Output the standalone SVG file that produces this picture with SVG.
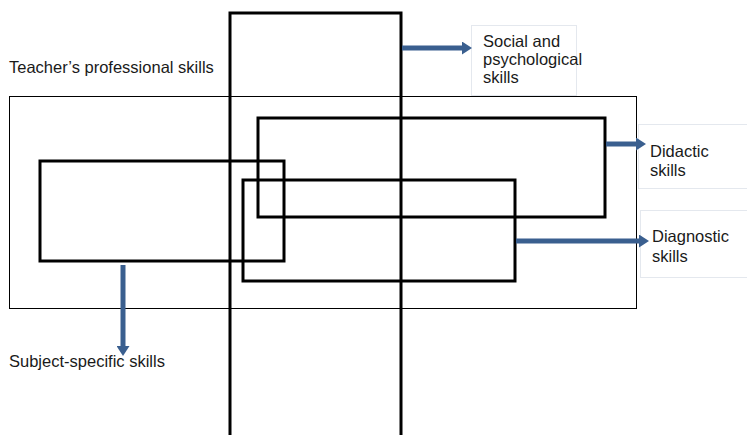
<svg xmlns="http://www.w3.org/2000/svg" width="747" height="435" viewBox="0 0 747 435">
<style>
text{font-family:"Liberation Sans",Arial,sans-serif;font-size:16.5px;fill:#1a1a1a}
.big{fill:none;stroke:#000;stroke-width:3}
.frame{fill:none;stroke:#000;stroke-width:1}
.lbl{fill:#fff;stroke:#e4e8ee;stroke-width:1}
.arr{stroke:#3a5f8f;stroke-width:5;fill:none}
</style>
<defs>
<marker id="ah" markerWidth="2" markerHeight="2.6" refX="0" refY="1.3" orient="auto" markerUnits="strokeWidth">
<path d="M0,0 L2,1.3 L0,2.6 Z" fill="#3a5f8f"/>
</marker>
</defs>
<rect width="747" height="435" fill="#fff"/>
<g id="professional">
<rect class="frame" x="9.5" y="96.5" width="627" height="212"/>
<text x="9" y="73">Teacher’s professional skills</text>
</g>
<g id="social-box">
<rect class="lbl" x="471.5" y="25.5" width="105" height="70"/>
<text x="483" y="47">Social and</text>
<text x="483" y="65">psychological</text>
<text x="483" y="83">skills</text>
</g>
<g id="didactic-box">
<rect class="lbl" x="638.5" y="124.5" width="110" height="64"/>
<text x="650" y="157">Didactic</text>
<text x="650" y="176">skills</text>
</g>
<g id="diagnostic-box">
<rect class="lbl" x="640.5" y="210.5" width="110" height="67"/>
<text x="652" y="242">Diagnostic</text>
<text x="652" y="262">skills</text>
</g>
<g id="subject-label">
<text x="9" y="367">Subject-specific skills</text>
</g>
<g id="social">
<rect class="big" x="230" y="13" width="171" height="430"/>
</g>
<g id="didactic">
<rect class="big" x="258" y="118" width="347" height="99"/>
</g>
<g id="subject">
<rect class="big" x="40" y="161" width="244" height="100"/>
</g>
<g id="diagnostic">
<rect class="big" x="243" y="180" width="272" height="101"/>
</g>
<g id="connectors">
<line class="arr" x1="402" y1="48" x2="462" y2="48" marker-end="url(#ah)"/>
<line class="arr" x1="606" y1="144" x2="636" y2="144" marker-end="url(#ah)"/>
<line class="arr" x1="516" y1="241" x2="639" y2="241" marker-end="url(#ah)"/>
<line class="arr" x1="123" y1="265" x2="123" y2="346" marker-end="url(#ah)"/>
</g>
</svg>
